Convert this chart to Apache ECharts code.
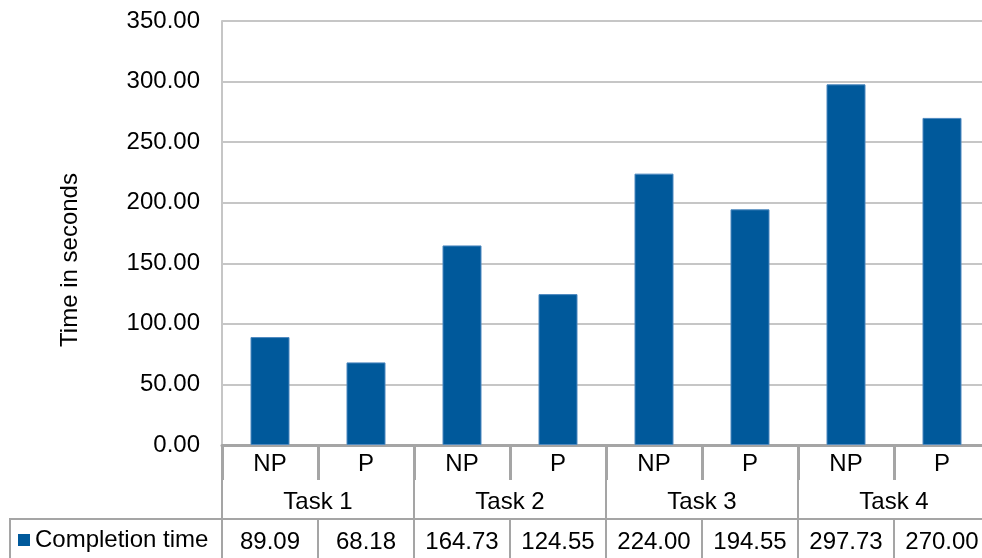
<!DOCTYPE html>
<html>
<head>
<meta charset="utf-8">
<script src="https://cdn.jsdelivr.net/npm/echarts@6/dist/echarts.min.js"></script>
<style>
  html, body { margin: 0; padding: 0; background: #ffffff; }
  #chart { width: 982px; height: 558px; }
</style>
</head>
<body>
<div id="chart"></div>
<script>
const subCategories = ['NP', 'P', 'NP', 'P', 'NP', 'P', 'NP', 'P'];
const tasks = ['Task 1', 'Task 2', 'Task 3', 'Task 4'];
const seriesName = 'Completion time';
const completionTimes = [89.09, 68.18, 164.73, 124.55, 224.00, 194.55, 297.73, 270.00];
const yTicks = { min: 0, max: 350, interval: 50 };

const FONT = "'Liberation Sans', Arial, sans-serif";
const FS = 24;
const darkLine = '#a5a5a5';
const lightLine = '#c6c6c6';

const chart = echarts.init(document.getElementById('chart'), null, { renderer: 'canvas' });

chart.setOption({
  animation: false,
  backgroundColor: '#ffffff',
  textStyle: { fontFamily: FONT },
  grid: { left: 222, top: 21, width: 768, height: 424, containLabel: false, outerBoundsMode: 'none' },
  legend: {
    data: [seriesName],
    left: 18, top: 528, padding: 0,
    icon: 'rect', itemWidth: 12, itemHeight: 12, itemGap: 5,
    itemStyle: { borderWidth: 0 },
    textStyle: { fontSize: FS, color: '#000', fontFamily: FONT }
  },
  xAxis: [
    {
      type: 'category', data: subCategories, position: 'bottom',
      axisLine: { show: true, lineStyle: { color: darkLine, width: 3 } },
      axisTick: { show: true, interval: 0, length: 35, lineStyle: { color: darkLine, width: 3 } },
      axisLabel: { interval: 0, fontSize: FS, color: '#000', margin: 7, fontFamily: FONT }
    },
    {
      type: 'category', data: tasks, position: 'bottom', offset: 0,
      axisLine: { show: false },
      axisTick: { show: true, interval: 0, length: 75, lineStyle: { color: darkLine, width: 2 } },
      axisLabel: { interval: 0, fontSize: FS, color: '#000', margin: 45, fontFamily: FONT }
    },
    {
      type: 'category', data: subCategories, position: 'bottom', offset: 74,
      axisLine: { show: true, lineStyle: { color: darkLine, width: 2 } },
      axisTick: { show: true, interval: 0, length: 40, lineStyle: { color: darkLine, width: 2 } },
      axisLabel: {
        interval: 0, fontSize: FS, color: '#000', margin: 11, fontFamily: FONT,
        formatter: (v, i) => completionTimes[i].toFixed(2)
      }
    }
  ],
  yAxis: {
    type: 'value', min: yTicks.min, max: yTicks.max, interval: yTicks.interval,
    name: 'Time in seconds', nameLocation: 'middle', nameGap: 140,
    nameTextStyle: { fontSize: FS, color: '#000', fontFamily: FONT, padding: [0, 54, 0, 0] },
    axisLine: { show: true, lineStyle: { color: lightLine, width: 2 } },
    axisTick: { show: false },
    splitLine: { show: true, lineStyle: { color: lightLine, width: 2 } },
    axisLabel: { fontSize: FS, color: '#000', margin: 22, fontFamily: FONT,
      formatter: v => v.toFixed(2) }
  },
  graphic: [
    {
      type: 'rect', silent: true,
      shape: { x: 10, y: 519, width: 212, height: 60 },
      style: { fill: null, stroke: darkLine, lineWidth: 2 }
    }
  ],
  series: [
    {
      name: seriesName, type: 'bar', xAxisIndex: 0, yAxisIndex: 0,
      data: completionTimes, barWidth: 39,
      itemStyle: { color: '#00599b', borderColor: '#4d88bf', borderWidth: 1 }
    }
  ]
});
</script>
</body>
</html>
